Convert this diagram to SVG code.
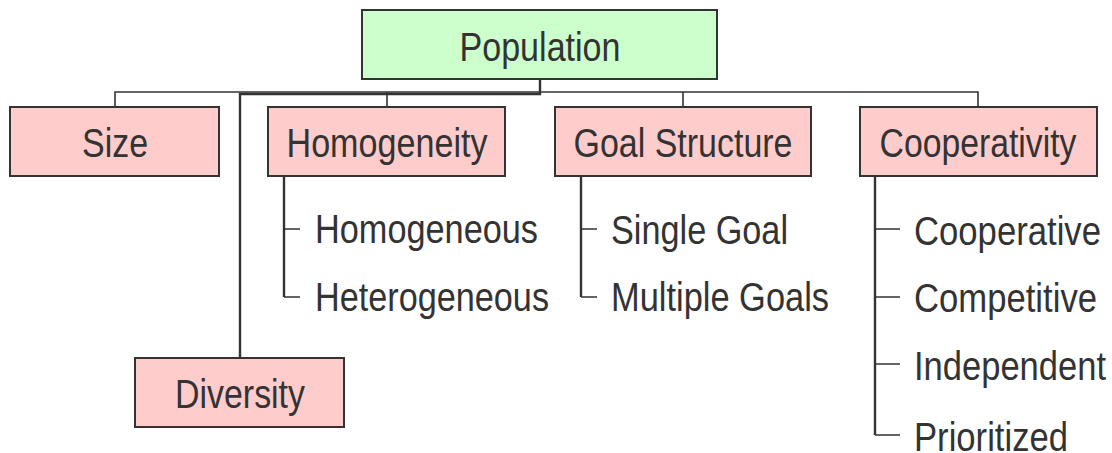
<svg xmlns="http://www.w3.org/2000/svg" width="1112" height="453" viewBox="0 0 1112 453">
<style>
.box{stroke:#333;stroke-width:2}
.root{fill:#ccffcc}
.cat{fill:#ffcccc}
.lbl{font-family:"Liberation Sans Narrow","Liberation Sans",Arial,sans-serif;font-size:40px;fill:#333}
.mid{text-anchor:middle}
.ln{fill:none;stroke:#333;stroke-width:1.6}
.thick{fill:none;stroke:#333;stroke-width:2.4}
</style>
<rect width="1112" height="453" fill="#fff"/>
<g id="connectors">
<path class="ln" d="M540,79 V92 M115,108 V92 H978 V108 M387,92 V108 M683,92 V108"/>
<path class="thick" d="M540,79 V94 H240 V358"/>
<path class="thick" d="M284,176 V297"/>
<path class="ln" d="M284,229 H300 M284,297 H300"/>
<path class="thick" d="M581,176 V297"/>
<path class="ln" d="M581,229 H597 M581,297 H597"/>
<path class="thick" d="M875,176 V435"/>
<path class="ln" d="M875,229 H900 M875,297 H900 M875,364 H900 M875,435 H900"/>
</g>
<g id="population">
<rect class="box root" x="362" y="10" width="355" height="69"/>
<text class="lbl mid" x="540" y="61" textLength="161" lengthAdjust="spacingAndGlyphs">Population</text>
</g>
<g id="size">
<rect class="box cat" x="10" y="107" width="209" height="69"/>
<text class="lbl mid" x="115" y="157" textLength="66" lengthAdjust="spacingAndGlyphs">Size</text>
</g>
<g id="homogeneity">
<rect class="box cat" x="268" y="107" width="237" height="69"/>
<text class="lbl mid" x="387" y="157" textLength="201" lengthAdjust="spacingAndGlyphs">Homogeneity</text>
</g>
<g id="goal-structure">
<rect class="box cat" x="555" y="107" width="256" height="69"/>
<text class="lbl mid" x="683" y="157" textLength="219" lengthAdjust="spacingAndGlyphs">Goal Structure</text>
</g>
<g id="cooperativity">
<rect class="box cat" x="860" y="107" width="237" height="69"/>
<text class="lbl mid" x="978" y="157" textLength="197" lengthAdjust="spacingAndGlyphs">Cooperativity</text>
</g>
<g id="diversity">
<rect class="box cat" x="135" y="358" width="209" height="69"/>
<text class="lbl mid" x="240" y="408" textLength="130" lengthAdjust="spacingAndGlyphs">Diversity</text>
</g>
<g id="homogeneous"><text class="lbl" x="315" y="243" textLength="223" lengthAdjust="spacingAndGlyphs">Homogeneous</text></g>
<g id="heterogeneous"><text class="lbl" x="315" y="311" textLength="234" lengthAdjust="spacingAndGlyphs">Heterogeneous</text></g>
<g id="single-goal"><text class="lbl" x="611" y="244" textLength="177" lengthAdjust="spacingAndGlyphs">Single Goal</text></g>
<g id="multiple-goals"><text class="lbl" x="611" y="311" textLength="218" lengthAdjust="spacingAndGlyphs">Multiple Goals</text></g>
<g id="cooperative"><text class="lbl" x="914" y="245" textLength="187" lengthAdjust="spacingAndGlyphs">Cooperative</text></g>
<g id="competitive"><text class="lbl" x="914" y="312" textLength="183" lengthAdjust="spacingAndGlyphs">Competitive</text></g>
<g id="independent"><text class="lbl" x="914" y="380" textLength="192" lengthAdjust="spacingAndGlyphs">Independent</text></g>
<g id="prioritized"><text class="lbl" x="914" y="451" textLength="154" lengthAdjust="spacingAndGlyphs">Prioritized</text></g>
</svg>
